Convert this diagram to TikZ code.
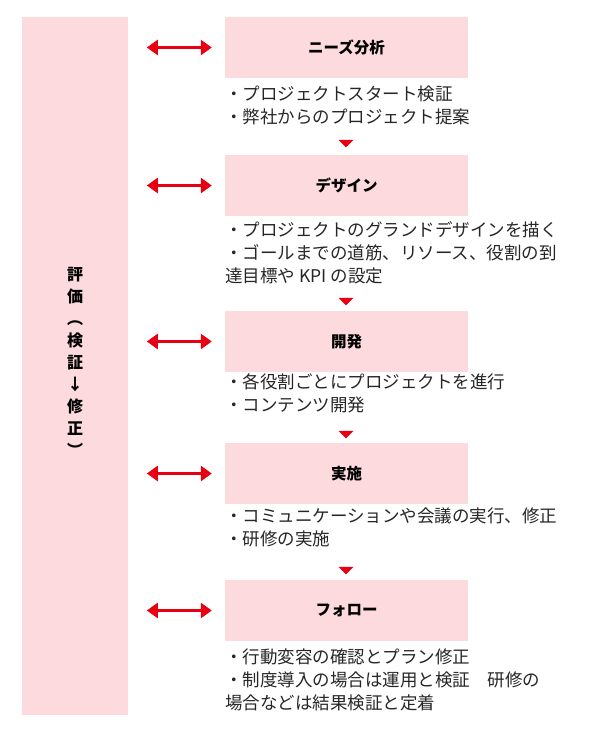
\documentclass[tikz,border=0pt]{standalone}
\usepackage{fontspec}
\setmainfont{Noto Sans CJK JP}
\usetikzlibrary{positioning,arrows.meta,shapes.geometric}
\definecolor{pinkbg}{HTML}{FCDADD}
\definecolor{redarr}{HTML}{E60012}
\begin{document}
\begin{tikzpicture}[x=1pt,y=-1pt,
  stagebox/.style={fill=pinkbg,minimum width=243pt,minimum height=61pt,
    font=\bfseries\fontsize{15.5}{18}\selectfont},
  note/.style={anchor=north west,align=left,inner sep=0pt,
    font=\fontsize{17.5}{23}\selectfont,text=black!85},
  dbl/.style={{Triangle[length=11pt,width=15pt]}-{Triangle[length=11pt,width=15pt]},
    redarr,line width=2.6pt},
  tri/.style={fill=redarr,draw=none,isosceles triangle,isosceles triangle apex angle=90,
    shape border rotate=-90,inner sep=0pt,minimum width=15pt,minimum height=7pt}]
\useasboundingbox (0,0) rectangle (600,750);
\fill[pinkbg] (22,17) rectangle (128,715);
\node[font=\bfseries\fontsize{16}{22}\selectfont,align=center] (eval) at (75,362)
  {評\\価\\︵\\検\\証\\↓\\修\\正\\︶};
% stages
\node[stagebox] (s1) at (346.5,47.5) {ニーズ分析};
\node[stagebox] (s2) at (346.5,185.5) {デザイン};
\node[stagebox] (s3) at (346.5,341.5) {開発};
\node[stagebox] (s4) at (346.5,473.5) {実施};
\node[stagebox] (s5) at (346.5,610.5) {フォロー};
\foreach \s in {s1,s2,s3,s4,s5}{
  \coordinate (l\s) at ([xshift=-78pt]\s.west);
  \draw[dbl] (l\s) -- ([xshift=-13pt]\s.west);
}
% notes
\node[note] (n1) at (225,86) {・プロジェクトスタート検証\\・弊社からのプロジェクト提案};
\node[note] (n2) at (225,221) {・プロジェクトのグランドデザインを描く\\・ゴールまでの道筋、リソース、役割の到\\達目標や KPI の設定};
\node[note] (n3) at (225,373) {・各役割ごとにプロジェクトを進行\\・コンテンツ開発};
\node[note] (n4) at (225,508) {・コミュニケーションや会議の実行、修正\\・研修の実施};
\node[note] (n5) at (225,649) {・行動変容の確認とプラン修正\\・制度導入の場合は運用と検証　研修の\\場合などは結果検証と定着};
% triangles
\foreach \y/\n in {143/t1,301/t2,434/t3,570/t4}
  \node[tri] (\n) at (346,\y) {};
\end{tikzpicture}
\end{document}
